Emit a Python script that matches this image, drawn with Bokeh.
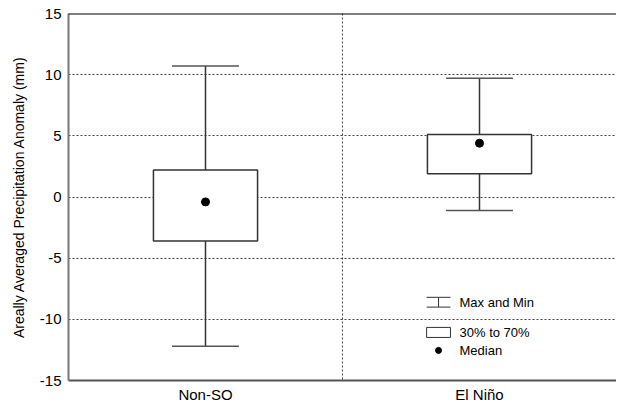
from bokeh.plotting import figure
from bokeh.models import Range1d, FixedTicker, Span, Label, ColumnDataSource
from bokeh.embed import file_html
from bokeh.resources import INLINE

# ---- data ----
categories = ["Non-SO", "El Niño"]
max_vals = [10.7, 9.7]
min_vals = [-12.2, -1.1]
p70_vals = [2.2, 5.1]
p30_vals = [-3.6, 1.9]
median_vals = [-0.4, 4.4]
y_ticks = [-15, -10, -5, 0, 5, 10, 15]
y_tick_labels = ["-15", "-10", "-5", "0", "5", "10", "15"]

FONT = "Liberation Sans"
xpos = [i + 0.5 for i in range(len(categories))]
box_half = 0.19
cap_half = 0.122

src = ColumnDataSource(dict(
    x=xpos,
    left=[x - box_half for x in xpos],
    right=[x + box_half for x in xpos],
    cap_l=[x - cap_half for x in xpos],
    cap_r=[x + cap_half for x in xpos],
    top=p70_vals, bottom=p30_vals,
    hi=max_vals, lo=min_vals, med=median_vals,
))

p = figure(width=616, height=405, output_backend="svg", toolbar_location=None,
           x_range=Range1d(0, 2.0), y_range=Range1d(-15, 15),
           min_border_left=68, min_border_top=13, min_border_right=0, min_border_bottom=5)
p.outline_line_color = None
p.background_fill_color = "white"

# grid
p.xgrid.grid_line_color = None
p.ygrid.ticker = FixedTicker(ticks=[-10, -5, 0, 5, 10])
p.ygrid.grid_line_color = "#444444"
p.ygrid.grid_line_dash = "2 2"
p.ygrid.grid_line_width = 1

# center separator and top border
p.add_layout(Span(location=1.0, dimension="height", line_color="#444444",
                  line_dash="2 2", line_width=1))
p.add_layout(Span(location=15, dimension="width", line_color="black", line_width=2))

# axes
p.yaxis.ticker = FixedTicker(ticks=y_ticks)
p.yaxis.major_label_overrides = {t: s for t, s in zip(y_ticks, y_tick_labels)}
p.yaxis.axis_label = "Areally Averaged Precipitation Anomaly (mm)"
p.yaxis.axis_label_text_font = FONT
p.yaxis.axis_label_text_font_size = "14px"
p.yaxis.axis_label_text_font_style = "normal"
p.yaxis.axis_label_text_color = "black"
p.yaxis.axis_label_standoff = 10
p.yaxis.major_label_text_font = FONT
p.yaxis.major_label_text_font_size = "15px"
p.yaxis.major_label_text_color = "black"
p.yaxis.major_tick_line_color = None
p.yaxis.major_tick_out = 0
p.yaxis.major_tick_in = 0
p.yaxis.minor_tick_line_color = None
p.yaxis.axis_line_color = "#777777"
p.yaxis.axis_line_width = 2
p.yaxis.major_label_standoff = 7

p.xaxis.ticker = FixedTicker(ticks=xpos)
p.xaxis.major_label_overrides = {x: c for x, c in zip(xpos, categories)}
p.xaxis.major_label_text_font = FONT
p.xaxis.major_label_text_font_size = "15px"
p.xaxis.major_label_text_color = "black"
p.xaxis.major_tick_line_color = None
p.xaxis.major_tick_out = 0
p.xaxis.major_tick_in = 0
p.xaxis.minor_tick_line_color = None
p.xaxis.axis_line_color = "#555555"
p.xaxis.axis_line_width = 2
p.xaxis.major_label_standoff = 5

# whiskers
p.segment(x0="x", y0="top", x1="x", y1="hi", source=src, line_color="#333333", line_width=1.5)
p.segment(x0="x", y0="bottom", x1="x", y1="lo", source=src, line_color="#333333", line_width=1.5)
p.segment(x0="cap_l", y0="hi", x1="cap_r", y1="hi", source=src, line_color="#555555", line_width=1.5)
p.segment(x0="cap_l", y0="lo", x1="cap_r", y1="lo", source=src, line_color="#555555", line_width=1.5)
# boxes
p.quad(left="left", right="right", top="top", bottom="bottom", source=src,
       fill_color="white", line_color="#333333", line_width=1.5)
# medians
p.scatter(x="x", y="med", source=src, size=8, marker="circle",
          fill_color="black", line_color="black")

# ---- manual legend ----
lx0, lx1 = 1.307, 1.394
lxm = (lx0 + lx1) / 2
p.segment(x0=[lx0, lx0, lxm], y0=[-8.2, -9.0, -8.2], x1=[lx1, lx1, lxm], y1=[-8.2, -9.0, -9.0],
          line_color="#333333", line_width=1)
p.quad(left=[lx0], right=[lx1], top=[-10.66], bottom=[-11.48],
       fill_color="white", line_color="#333333", line_width=1)
p.scatter(x=[lxm], y=[-12.54], size=6, marker="circle", fill_color="black", line_color="black")
for txt, yy in [("Max and Min", -8.6), ("30% to 70%", -11.07), ("Median", -12.54)]:
    p.add_layout(Label(x=1.427, y=yy, text=txt, text_font=FONT, text_font_size="13px",
                       text_baseline="middle", text_color="black"))

open("out.html", "w").write(file_html(p, INLINE))
